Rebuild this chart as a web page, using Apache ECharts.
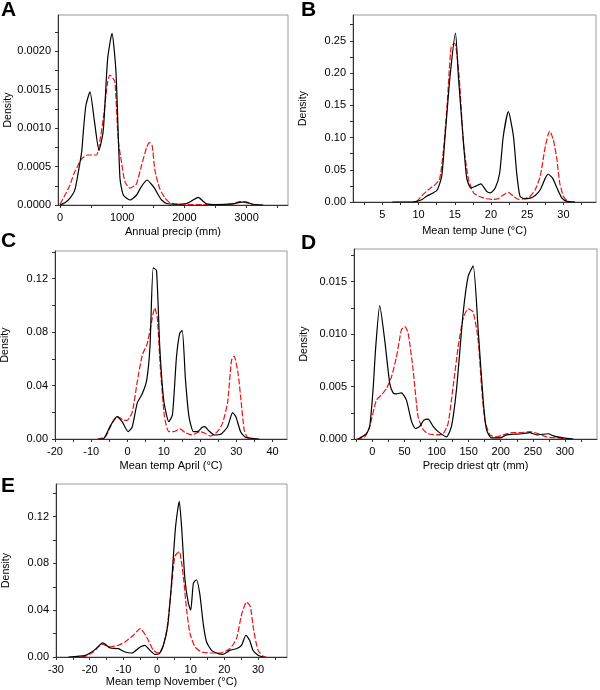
<!DOCTYPE html>
<html><head><meta charset="utf-8">
<script src="https://cdn.jsdelivr.net/npm/echarts@6/dist/echarts.min.js"></script>
<style>html,body{margin:0;padding:0;background:#fff}#c{width:600px;height:690px}</style>
</head><body><div id="c"></div>
<script>
// ---------- Panel A: Annual precip (mm) ----------
const aBlackX = [0,80,161,240,310,350,380,418,482,552,627,696,766,836,900,964,1018,1125,1232,1300,1400,1470,1527,1580,1634,1715,1875,2035,2130,2223,2300,2357,2517,2785,2890,2973,3107,3267];
const aBlackY = [0,0.00003,0.00009,0.0002,0.0005,0.0007,0.001,0.0013,0.00147,0.0011,0.00071,0.00097,0.0019,0.00223,0.00173,0.00035,0.00013,0.000065,0.00013,0.00023,0.000325,0.00027,0.00021,0.00013,0.000065,0.00002,0.00001,0.00002,0.00006,0.0001,0.00005,0.000015,0.000005,0.000015,0.000035,0.00004,0.00001,0];
const aRedX = [0,80,161,220,280,348,439,520,589,643,700,766,803,850,884,937,992,1045,1125,1200,1233,1313,1394,1440,1480,1527,1600,1688,1768,1900,2100,2300,2600,2800,2886,2973,3100,3200];
const aRedY = [0.00001,0.00013,0.00026,0.0004,0.0005,0.0006,0.00065,0.00065,0.00065,0.00084,0.00115,0.0016,0.00169,0.00165,0.0016,0.00084,0.00054,0.0003,0.00022,0.00025,0.00028,0.00052,0.00075,0.00081,0.00078,0.00045,0.00022,0.00009,0.00003,0.00001,0.000005,0.000005,0.000005,0.00002,0.000045,0.000035,0.000005,0];
const aXLabels = [0,1000,2000,3000];
const aXTicks = [0,500,1000,1500,2000,2500,3000,3500];
const aYLabels = [0,0.0005,0.001,0.0015,0.002];
const aYTicks = [0,0.00025,0.0005,0.00075,0.001,0.00125,0.0015,0.00175,0.002,0.00225];

// ---------- Panel B: Mean temp June ----------
const bBlackX = [6.4,9.0,9.7,10.5,11.1,12.0,12.6,13.2,13.7,14.35,15.1,15.5,16.1,16.65,17.2,17.8,18.6,19.4,19.9,20.6,21.2,21.7,22.4,23.1,23.55,24.0,24.6,25.4,26.1,26.8,27.5,27.9,28.5,29.1,29.8,30.5,31.6];
const bBlackY = [0,0,0.001,0.004,0.009,0.014,0.019,0.04,0.107,0.195,0.262,0.195,0.107,0.037,0.022,0.024,0.028,0.0165,0.014,0.022,0.045,0.102,0.14,0.102,0.045,0.009,0.005,0.006,0.01,0.019,0.037,0.043,0.037,0.022,0.006,0.001,0];
const bRedX = [9.7,10.4,11.35,12.3,12.9,13.4,13.9,14.5,15.0,15.6,16.2,16.9,17.6,18.3,19.4,20.3,21.0,21.7,22.4,23.1,23.8,24.5,25.4,26.1,26.8,27.5,28.1,28.6,29.1,29.5,30.0,30.5,30.9];
const bRedY = [0,0.009,0.019,0.027,0.035,0.076,0.143,0.241,0.246,0.195,0.091,0.035,0.014,0.009,0.005,0.004,0.005,0.011,0.015,0.009,0.004,0.005,0.009,0.019,0.04,0.086,0.11,0.097,0.066,0.029,0.009,0.002,0];
const bXLabels = [5,10,15,20,25,30];
const bXTicks = [2.5,5,7.5,10,12.5,15,17.5,20,22.5,25,27.5,30,32.5];
const bYLabels = [0,0.05,0.1,0.15,0.2,0.25];
const bYTicks = [0,0.025,0.05,0.075,0.1,0.125,0.15,0.175,0.2,0.225,0.25,0.275];

// ---------- Panel C: Mean temp April ----------
const cBlackX = [-7.9,-6.5,-4.7,-2.9,-1.5,0.2,1.3,2.7,4.1,5.3,6.2,7.1,8.0,8.9,10.0,11.4,12.4,13.5,14.4,15.1,16.0,16.96,18.2,19.3,20.6,21.3,22.5,23.9,25.7,27.6,29.0,29.9,31.2,32.6,34.9,36.3];
const cBlackY = [0,0.0005,0.01,0.0167,0.013,0.0055,0.009,0.027,0.034,0.044,0.069,0.128,0.126,0.069,0.029,0.013,0.018,0.061,0.079,0.081,0.044,0.0167,0.0055,0.0055,0.0087,0.0092,0.006,0.003,0.0035,0.0092,0.0197,0.0167,0.0055,0.0012,0.0003,0];
const cRedX = [-8.4,-6.1,-4.2,-2.7,-1.0,-0.1,1.3,2.7,4.1,5.4,6.4,7.5,8.2,9.1,10.2,11.4,12.8,14.5,16.0,17.9,20.0,21.1,22.9,24.8,26.2,27.6,28.7,29.4,30.5,31.2,32.2,33.1,34.0];
const cRedY = [0,0.0017,0.012,0.0167,0.014,0.014,0.02,0.043,0.063,0.071,0.084,0.098,0.091,0.052,0.0167,0.0055,0.0055,0.0075,0.0047,0.003,0.0055,0.0047,0.0022,0.0055,0.0117,0.027,0.059,0.062,0.049,0.032,0.0067,0.0012,0];
const cXLabels = [-20,-10,0,10,20,30,40];
const cXTicks = [-20,-15,-10,-5,0,5,10,15,20,25,30,35,40];
const cYLabels = [0,0.04,0.08,0.12];
const cYTicks = [0,0.02,0.04,0.06,0.08,0.1,0.12,0.14];

// ---------- Panel D: Precip driest qtr (mm) ----------
const dBlackX = [-22,-9.4,-4.2,1.0,5.2,11.4,19.2,27.0,32.2,37.4,45.2,53.0,60.8,67.1,73.8,80.1,86.8,94.6,102.4,115.4,123.2,131.0,141.4,149.2,157.0,164.8,172.6,177.8,185.6,198.6,209.0,219.5,232.5,245.5,255.9,274.1,281.9,297.5,313.0];
const dBlackY = [0,0.0005,0.0012,0.0047,0.0088,0.0127,0.0094,0.0053,0.0044,0.0043,0.0044,0.0037,0.0017,0.001,0.0012,0.0018,0.0019,0.0012,0.0007,0.0002,0.0012,0.0047,0.012,0.0155,0.0165,0.0104,0.0037,0.0009,0.0001,0.0001,0.0004,0.00045,0.0005,0.0006,0.0004,0.0005,0.0003,0.0001,0];
const dRedX = [-25,-12,-4.2,6.2,14,21.8,29.6,37.4,45.2,50.4,55.6,63.4,71.2,79.1,86.8,99.8,110.2,118,125.8,133.7,141.4,149.2,157,164.8,170,175.2,183,193.4,203.8,216.8,229.8,245.5,258.4,271.5,287,302.7];
const dRedY = [0,0.0002,0.0012,0.0037,0.0042,0.0048,0.0059,0.0078,0.0104,0.0107,0.0101,0.0066,0.0021,0.0009,0.0005,0.0004,0.0005,0.0015,0.005,0.0088,0.0115,0.0124,0.0121,0.0094,0.005,0.0018,0.0004,0.0002,0.0004,0.0006,0.0006,0.0007,0.0005,0.0002,0.0001,0];
const dXLabels = [0,50,100,150,200,250,300];
const dXTicks = [-25,0,25,50,75,100,125,150,175,200,225,250,275,300,325];
const dYLabels = [0,0.005,0.01,0.015];
const dYTicks = [0,0.0025,0.005,0.0075,0.01,0.0125,0.015,0.0175];

// ---------- Panel E: Mean temp November ----------
const eBlackX = [-26.3,-21.3,-18.4,-16.1,-13.9,-11.5,-9.5,-7.5,-5.0,-3.6,-2.1,-0.6,0.7,1.9,3.2,4.3,5.5,6.6,7.3,8.3,9.3,10.0,10.8,11.7,12.7,13.7,14.7,16.2,18.2,19.6,21.6,23.6,25.1,26.4,27.5,28.5,30.0,31.5];
const eBlackY = [0,0.0014,0.0063,0.012,0.0077,0.0071,0.0043,0.0034,0.0086,0.01,0.0057,0.0023,0.0029,0.01,0.027,0.063,0.111,0.133,0.111,0.066,0.046,0.04,0.063,0.066,0.054,0.029,0.013,0.0057,0.0029,0.0023,0.0057,0.0071,0.01,0.0186,0.0143,0.0057,0.0014,0];
const eRedX = [-24.8,-21.3,-18.9,-16.4,-13.9,-11.5,-9.5,-7.0,-5.0,-3.1,-1.1,0.4,1.7,2.9,4.1,5.3,6.6,7.8,8.8,9.8,11.3,13.2,15.7,18.7,21.6,23.6,25.1,26.6,27.7,28.7,30.0,31.5,32.5];
const eRedY = [0,0.0006,0.0043,0.0109,0.0086,0.01,0.0129,0.0186,0.0243,0.0171,0.0057,0.0034,0.0086,0.023,0.054,0.086,0.09,0.069,0.04,0.02,0.0086,0.0043,0.0034,0.0034,0.0071,0.0157,0.036,0.047,0.043,0.023,0.0057,0.0006,0];
const eXLabels = [-30,-20,-10,0,10,20,30];
const eXTicks = [-30,-25,-20,-15,-10,-5,0,5,10,15,20,25,30,35];
const eYLabels = [0,0.04,0.08,0.12];
const eYTicks = [0,0.02,0.04,0.06,0.08,0.1,0.12,0.14];

const panelLetters = ['A','B','C','D','E'];
const xTitles = ['Annual precip (mm)','Mean temp June (\u00B0C)','Mean temp April (\u00B0C)','Precip driest qtr (mm)','Mean temp November (\u00B0C)'];
const yTitle = 'Density';

// ---------- layout (positions / styles) ----------
const panels = [
  {bx:aBlackX,by:aBlackY,rx:aRedX,ry:aRedY,xl:aXLabels,xt:aXTicks,yl:aYLabels,yt:aYTicks,dec:4,
   grid:{left:58,top:15,width:230,height:190},xmin:-32,xmax:3666,ymax:0.00247,nameGap:21,letter:[1,0]},
  {bx:bBlackX,by:bBlackY,rx:bRedX,ry:bRedY,xl:bXLabels,xt:bXTicks,yl:bYLabels,yt:bYTicks,dec:2,
   grid:{left:353,top:15,width:243,height:187},xmin:0.95,xmax:34.5,ymax:0.29,nameGap:23,letter:[301,0]},
  {bx:cBlackX,by:cBlackY,rx:cRedX,ry:cRedY,xl:cXLabels,xt:cXTicks,yl:cYLabels,yt:cYTicks,dec:2,
   grid:{left:55,top:251,width:232,height:188},xmin:-20,xmax:44,ymax:0.1406,nameGap:21,letter:[1,231]},
  {bx:dBlackX,by:dBlackY,rx:dRedX,ry:dRedY,xl:dXLabels,xt:dXTicks,yl:dYLabels,yt:dYTicks,dec:3,
   grid:{left:354,top:249,width:243,height:190},xmin:-28.7,xmax:350,ymax:0.0181,nameGap:21,letter:[301,233]},
  {bx:eBlackX,by:eBlackY,rx:eRedX,ry:eRedY,xl:eXLabels,xt:eXTicks,yl:eYLabels,yt:eYTicks,dec:2,
   grid:{left:56,top:484,width:231,height:173},xmin:-30,xmax:38.6,ymax:0.1478,nameGap:19,letter:[1,476]}
];

const FONT = 'Liberation Sans, Arial, sans-serif';
const zip = (xs, ys) => xs.map((x, i) => [x, ys[i]]);

const grids = [], xAxes = [], yAxes = [], series = [], graphics = [];
panels.forEach((p, i) => {
  grids.push(Object.assign({show:true, borderColor:'#9a9a9a', borderWidth:1, backgroundColor:'#fff',
    containLabel:false, outerBoundsMode:'none'}, p.grid));
  xAxes.push({type:'value', gridIndex:i, min:p.xmin, max:p.xmax,
    name:xTitles[i], nameLocation:'middle', nameGap:p.nameGap,
    nameTextStyle:{fontFamily:FONT, fontSize:11, color:'#000'},
    axisLine:{show:true, onZero:false, lineStyle:{color:'#333', width:1}},
    axisTick:{show:true, length:3, customValues:p.xt, lineStyle:{color:'#333'}},
    axisLabel:{show:true, customValues:p.xl, margin:7, fontFamily:FONT, fontSize:11, color:'#000',
      formatter:v => String(v)},
    splitLine:{show:false}});
  yAxes.push({type:'value', gridIndex:i, min:0, max:p.ymax,
    name:yTitle, nameLocation:'middle', nameRotate:90, nameGap:44,
    nameTextStyle:{fontFamily:FONT, fontSize:10.5, color:'#000'},
    axisLine:{show:true, onZero:false, lineStyle:{color:'#333', width:1}},
    axisTick:{show:true, length:3, customValues:p.yt, lineStyle:{color:'#333'}},
    axisLabel:{show:true, customValues:p.yl, margin:7, fontFamily:FONT, fontSize:11, color:'#000',
      formatter:v => Number(v).toFixed(p.dec)},
    splitLine:{show:false}});
  series.push({type:'line', xAxisIndex:i, yAxisIndex:i, data:zip(p.rx, p.ry), showSymbol:false,
    smooth:0.2, lineStyle:{color:'#ee1111', width:1.2, type:[6,2]}, z:2});
  series.push({type:'line', xAxisIndex:i, yAxisIndex:i, data:zip(p.bx, p.by), showSymbol:false,
    smooth:0.2, lineStyle:{color:'#000', width:1.2}, z:3});
  graphics.push({type:'text', left:p.letter[0], top:p.letter[1],
    style:{text:panelLetters[i], font:'bold 21px ' + FONT, fill:'#000'}});
});

const chart = echarts.init(document.getElementById('c'), null, {renderer:'canvas'});
chart.setOption({
  animation:false,
  backgroundColor:'#fff',
  grid:grids, xAxis:xAxes, yAxis:yAxes, series:series, graphic:graphics
});
</script></body></html>
